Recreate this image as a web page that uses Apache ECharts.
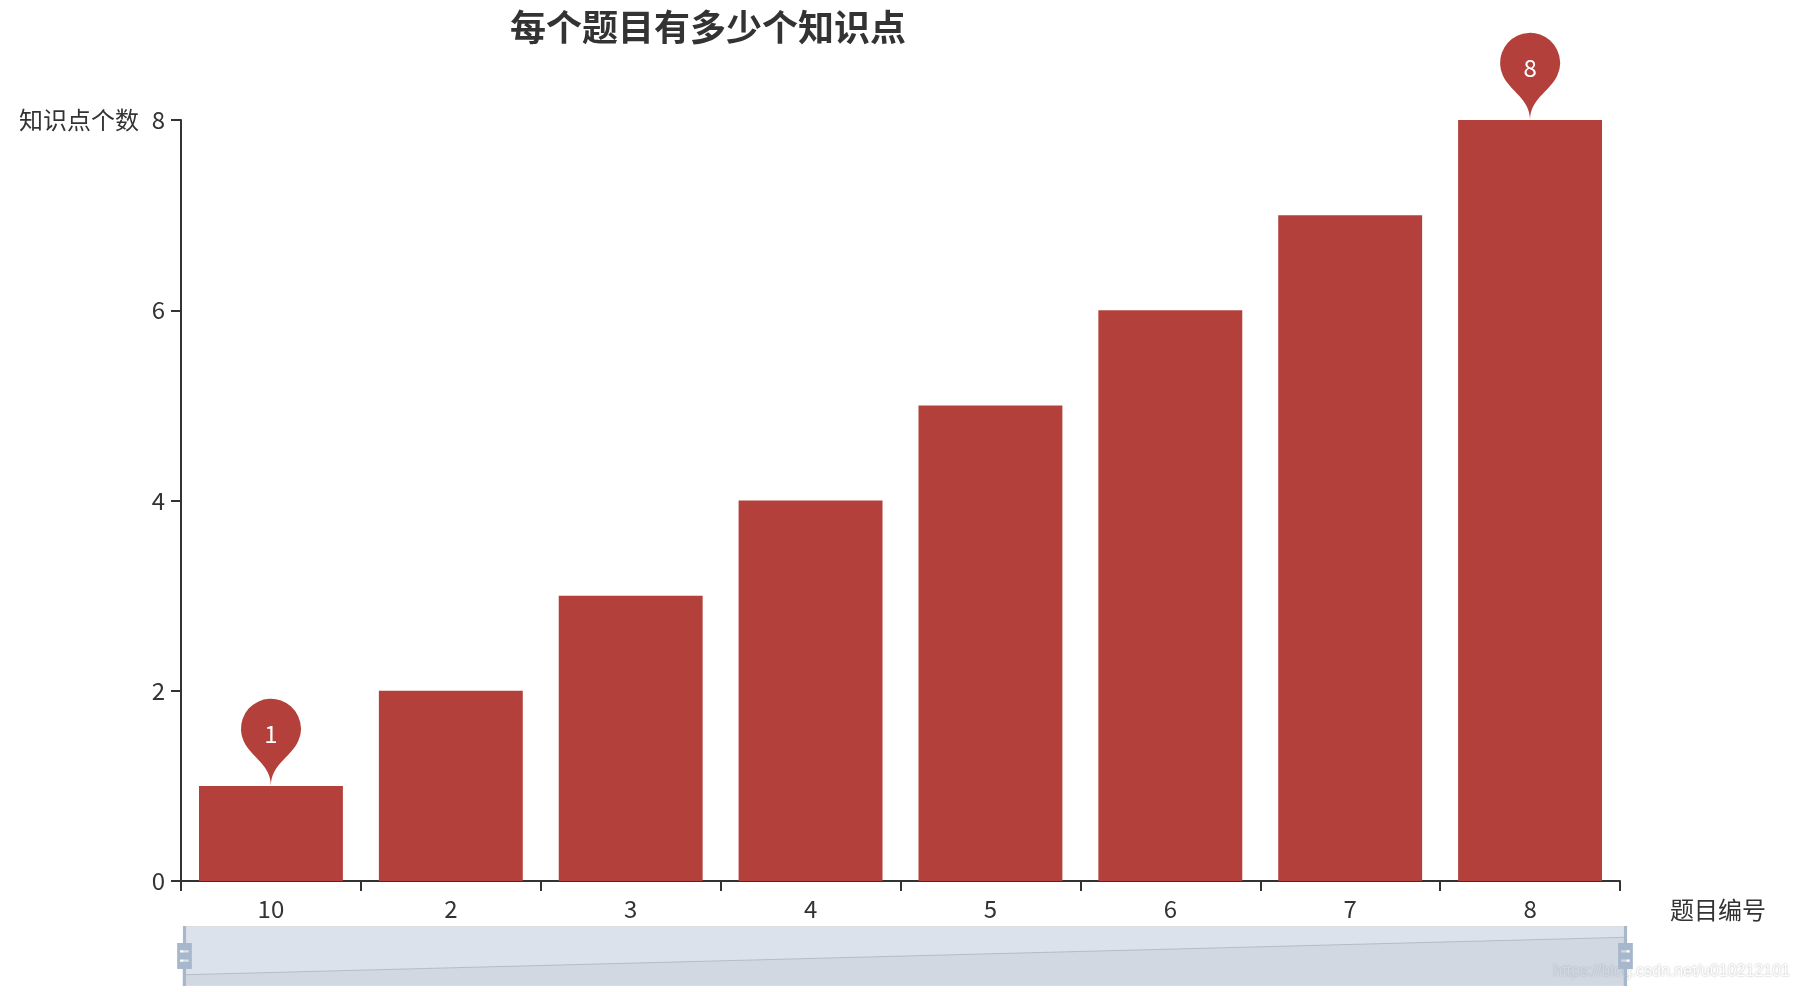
<!DOCTYPE html>
<html>
<head>
<meta charset="utf-8">
<title>每个题目有多少个知识点</title>
<script src="https://cdn.jsdelivr.net/npm/echarts@6/dist/echarts.min.js"></script>
<style>
  html, body { margin: 0; padding: 0; background: #fff; }
  #main { width: 1798px; height: 992px; }
</style>
</head>
<body>
<div id="main"></div>
<script>
// 题目编号 / 知识点个数
var questionIds = ['10', '2', '3', '4', '5', '6', '7', '8'];
var pointCounts = [1, 2, 3, 4, 5, 6, 7, 8];
var yTicks = { min: 0, max: 8, interval: 2 };

var barColor = '#b3403a';
var fontCJK = '"Noto Sans CJK SC", "Noto Sans", sans-serif';
// v4 style slider handle
var handlePath = 'M8.2,13.6V3.9H6.3v9.7H3.1v14.9h3.3v9.7h1.8v-9.7h3.3V13.6H8.2z M9.7,24.4H4.8v-1.4h4.9V24.4z M9.7,19.1H4.8v-1.4h4.9V19.1z';

var chart = echarts.init(document.getElementById('main'));

chart.setOption({
  animation: false,
  textStyle: { fontFamily: fontCJK },
  title: {
    text: '每个题目有多少个知识点',
    left: 505,
    top: 4,
    textStyle: {
      fontSize: 36,
      fontWeight: 'bold',
      color: '#333',
      fontFamily: fontCJK
    }
  },
  grid: {
    left: 181,
    right: 178,
    top: 120,
    bottom: 111
  },
  xAxis: {
    type: 'category',
    data: questionIds,
    name: '题目编号',
    nameLocation: 'end',
    nameGap: 50,
    nameTextStyle: {
      fontSize: 24,
      color: '#333',
      align: 'left',
      verticalAlign: 'top',
      padding: [17, 0, 0, 0]
    },
    axisLine: { show: true, lineStyle: { color: '#333', width: 2 } },
    axisTick: { show: true, length: 10, lineStyle: { width: 2 } },
    axisLabel: { fontSize: 24, color: '#333', margin: 16 },
    splitLine: { show: false }
  },
  yAxis: {
    type: 'value',
    min: yTicks.min,
    max: yTicks.max,
    interval: yTicks.interval,
    name: '知识点个数',
    nameLocation: 'end',
    nameGap: 0,
    nameTextStyle: {
      fontSize: 24,
      color: '#333',
      align: 'right',
      verticalAlign: 'middle',
      padding: [0, 42, 0, 0]
    },
    axisLine: { show: true, lineStyle: { color: '#333', width: 2 } },
    axisTick: { show: true, length: 10, lineStyle: { width: 2 } },
    axisLabel: { fontSize: 24, color: '#333', margin: 16 },
    splitLine: { show: false }
  },
  dataZoom: [{
    type: 'slider',
    show: true,
    xAxisIndex: 0,
    start: 0,
    end: 100,
    left: 181,
    right: 174,
    bottom: 6,
    height: 60,
    backgroundColor: 'rgba(47,69,84,0)',
    borderColor: '#ddd',
    borderRadius: 0,
    fillerColor: 'rgba(167,183,204,0.4)',
    showDataShadow: true,
    dataBackground: {
      lineStyle: { color: '#2f4554', width: 1, opacity: 0.3 },
      areaStyle: { color: 'rgba(47,69,84,0.3)', opacity: 0.3 }
    },
    selectedDataBackground: {
      lineStyle: { color: '#2f4554', width: 1, opacity: 0.3 },
      areaStyle: { color: 'rgba(47,69,84,0.3)', opacity: 0.3 }
    },
    handleIcon: handlePath,
    handleSize: '100%',
    handleStyle: { color: '#a7b7cc', borderColor: '#a7b7cc', borderWidth: 0 },
    moveHandleSize: 0,
    brushSelect: false,
    showDetail: false,
    emphasis: {
      handleStyle: { color: '#a7b7cc', borderColor: '#a7b7cc' }
    }
  }],
  graphic: [{
    type: 'text',
    right: 8,
    bottom: 12,
    silent: true,
    style: {
      text: 'https://blog.csdn.net/u010212101',
      font: '16px "Liberation Sans", Arial, sans-serif',
      fill: '#ffffff',
      textShadowColor: 'rgba(0,0,0,0.35)',
      textShadowBlur: 2
    }
  }],
  series: [{
    type: 'bar',
    data: pointCounts,
    barCategoryGap: '20%',
    itemStyle: { color: barColor },
    markPoint: {
      symbol: 'pin',
      symbolSize: 100,
      itemStyle: { color: barColor },
      label: { fontSize: 24, color: '#fff' },
      data: [
        { type: 'max', name: '最大值' },
        { type: 'min', name: '最小值' }
      ]
    }
  }]
});
</script>
</body>
</html>
